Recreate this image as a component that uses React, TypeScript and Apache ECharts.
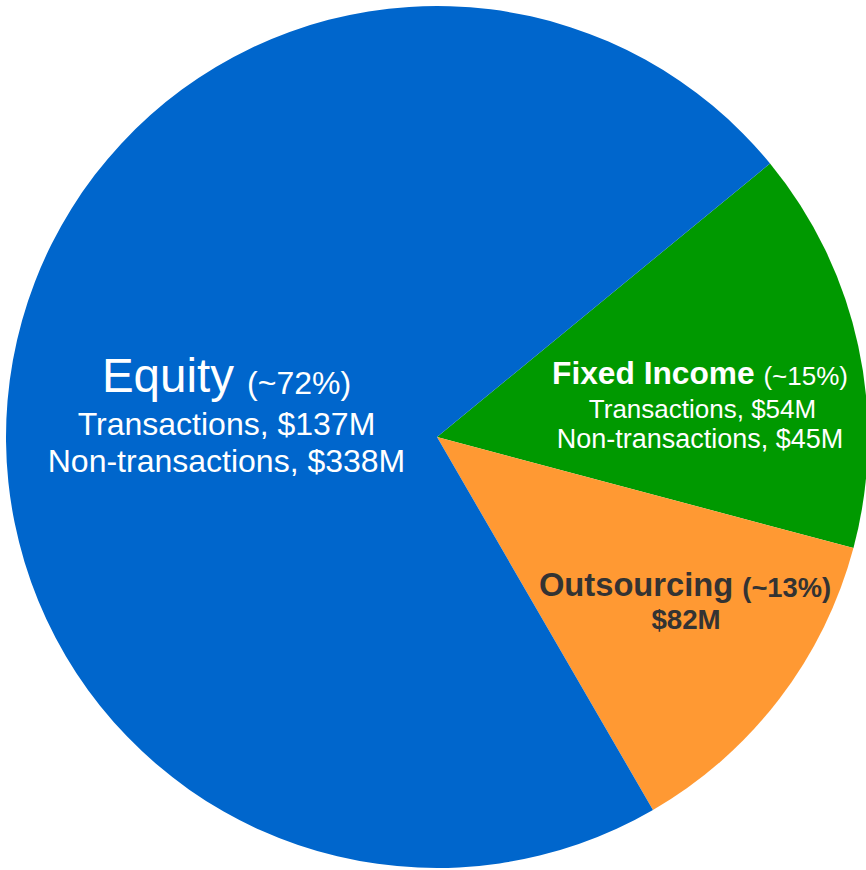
import React, { useEffect, useRef } from "react";
import * as echarts from "echarts";

// Segments in drawing order (clockwise from the top-right edge)
const segments = ["Fixed Income", "Outsourcing", "Equity"];
const transactionValues = [54, 0, 137]; // $M
const nonTransactionValues = [45, 0, 338]; // $M
const otherValues = [0, 82, 0]; // $M (outsourcing revenue)
const shareLabels = ["~15%", "~13%", "~72%"];
const colors = ["#009900", "#FF9933", "#0066CC"];

const FONT = "Arial, 'Liberation Sans', Helvetica, sans-serif";

export default function App() {
  const ref = useRef<HTMLDivElement>(null);

  useEffect(() => {
    if (!ref.current) return;
    const chart = echarts.init(ref.current, undefined, { renderer: "svg" });
    const values = segments.map(
      (_, i) => transactionValues[i] + nonTransactionValues[i] + otherValues[i]
    );

    const fi = 0, out = 1, eq = 2;

    const white = "#ffffff";
    const dark = "#333333";

    const graphicItems: any[] = [
      // Equity
      {
        type: "text", x: 226.5, y: 375,
        style: {
          text: `{a|${segments[eq]} }{b|(${shareLabels[eq]})}`,
          align: "center", verticalAlign: "middle", fontFamily: FONT,
          rich: {
            a: { fontSize: 47.5, fill: white, fontFamily: FONT },
            b: { fontSize: 32, fill: white, fontFamily: FONT, verticalAlign: "bottom", lineHeight: 37 },
          },
        },
      },
      {
        type: "text", x: 226.5, y: 424,
        style: { text: `Transactions, $${transactionValues[eq]}M`, fill: white, fontSize: 32, fontFamily: FONT, align: "center", verticalAlign: "middle" },
      },
      {
        type: "text", x: 226.5, y: 461,
        style: { text: `Non-transactions, $${nonTransactionValues[eq]}M`, fill: white, fontSize: 32, fontFamily: FONT, align: "center", verticalAlign: "middle" },
      },
      // Fixed Income
      {
        type: "text", x: 700, y: 372.5,
        style: {
          text: `{a|${segments[fi]} }{b|(${shareLabels[fi]})}`,
          align: "center", verticalAlign: "middle", fontFamily: FONT,
          rich: {
            a: { fontSize: 31.7, fontWeight: "bold", fill: white, fontFamily: FONT },
            b: { fontSize: 26, fill: white, fontFamily: FONT, verticalAlign: "bottom", lineHeight: 28 },
          },
        },
      },
      {
        type: "text", x: 702.5, y: 409,
        style: { text: `Transactions, $${transactionValues[fi]}M`, fill: white, fontSize: 26, fontFamily: FONT, align: "center", verticalAlign: "middle" },
      },
      {
        type: "text", x: 700, y: 439,
        style: { text: `Non-transactions, $${nonTransactionValues[fi]}M`, fill: white, fontSize: 27, fontFamily: FONT, align: "center", verticalAlign: "middle" },
      },
      // Outsourcing
      {
        type: "text", x: 685, y: 584.5,
        style: {
          text: `{a|${segments[out]} }{b|(${shareLabels[out]})}`,
          align: "center", verticalAlign: "middle", fontFamily: FONT,
          rich: {
            a: { fontSize: 32.7, fontWeight: "bold", fill: dark, fontFamily: FONT },
            b: { fontSize: 27.3, fontWeight: "bold", fill: dark, fontFamily: FONT, verticalAlign: "bottom", lineHeight: 29 },
          },
        },
      },
      {
        type: "text", x: 686, y: 619,
        style: { text: `$${otherValues[out]}M`, fill: dark, fontSize: 27.7, fontWeight: "bold", fontFamily: FONT, align: "center", verticalAlign: "middle" },
      },
    ].map((el) => ({ ...el, z: 100, zlevel: 0, silent: true }));

    chart.setOption({
      animation: false,
      backgroundColor: "#ffffff",
      series: [
        {
          type: "pie",
          center: [437, 437],
          radius: 431,
          startAngle: 39.4,
          clockwise: true,
          silent: true,
          z: 1,
          label: { show: false },
          labelLine: { show: false },
          emphasis: { disabled: true },
          itemStyle: { borderWidth: 0 },
          data: segments.map((name, i) => ({
            name,
            value: values[i],
            itemStyle: { color: colors[i] },
          })),
        },
      ],
      graphic: { elements: graphicItems },
    });

    return () => chart.dispose();
  }, []);

  return (
    <div
      ref={ref}
      style={{ position: "absolute", left: 0, top: 0, width: 866, height: 870 }}
    />
  );
}
